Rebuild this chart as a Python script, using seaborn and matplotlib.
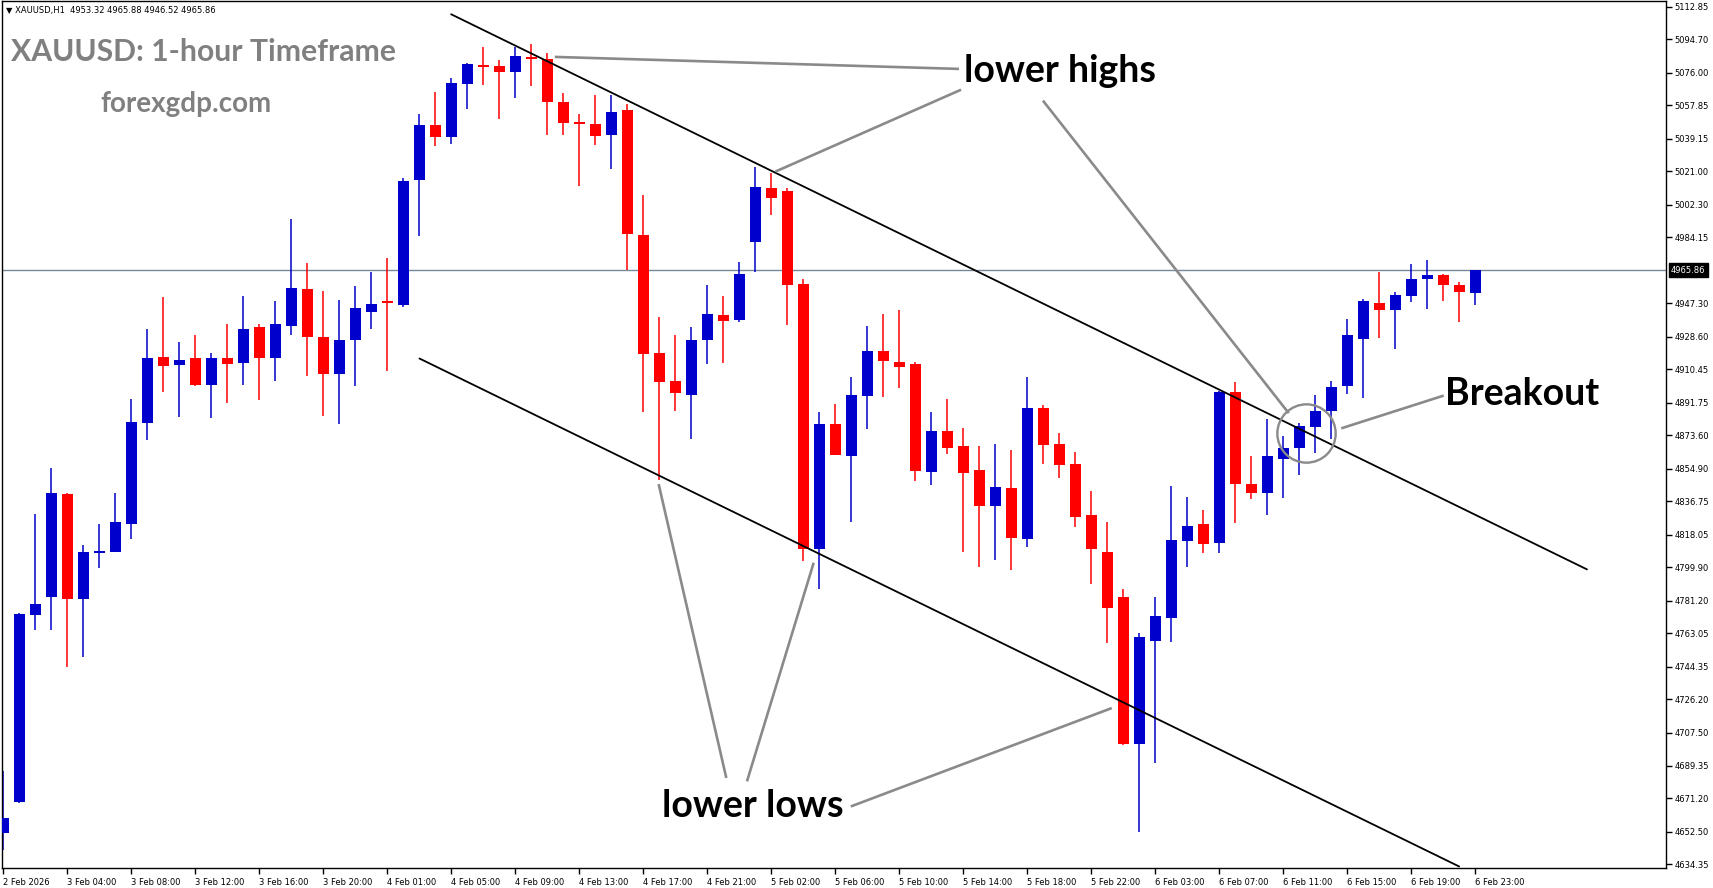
import matplotlib
matplotlib.use("Agg")
import matplotlib.pyplot as plt
import seaborn as sns
import pandas as pd
import numpy as np

# hourly candles, 2 Feb - 6 Feb 2026
opens = [4651.8, 4668.8, 4773.5, 4783.2, 4840.7, 4782.5, 4807.7, 4808.7, 4824.4, 4880.6,
         4917.5, 4912.6, 4916.5, 4901.9, 4916.9, 4913.9, 4934.3, 4916.5, 4934.9, 4955.1,
         4928.3, 4908.1, 4926.6, 4942.2, 4948.7, 4946.3, 5015.9, 5046.6, 5039.9, 5069.7,
         5080.5, 5079.6, 5076.4, 5084.5, 5083.5, 5059.9, 5048.1, 5047.6, 5041.0, 5054.9,
         4985.4, 4919.7, 4904.0, 4896.3, 4926.6, 4940.5, 4937.9, 4981.5, 5011.8, 5010.1,
         4958.3, 4810.3, 4880.2, 4861.9, 4895.7, 4920.4, 4914.5, 4913.5, 4853.1, 4876.3,
         4867.4, 4854.3, 4834.1, 4844.0, 4815.5, 4888.8, 4869.0, 4857.7, 4829.0, 4808.6,
         4783.3, 4701.1, 4759.1, 4771.6, 4814.9, 4824.0, 4813.5, 4898.0, 4846.3, 4841.6,
         4860.6, 4866.7, 4878.4, 4887.4, 4901.3, 4927.5, 4947.6, 4943.7, 4951.5, 4960.7,
         4963.3, 4957.5, 4953.32]
highs = [4686.2, 4774.5, 4829.5, 4855.3, 4841.4, 4812.6, 4824.4, 4841.4, 4893.9, 4933.2,
         4950.6, 4925.9, 4929.8, 4919.3, 4935.6, 4951.2, 4936.0, 4948.5, 4994.6, 4969.7,
         4954.0, 4948.9, 4956.8, 4964.8, 4972.7, 5017.0, 5053.2, 5065.4, 5073.2, 5081.3,
         5090.1, 5082.8, 5090.3, 5091.8, 5086.9, 5064.4, 5053.2, 5063.3, 5063.3, 5058.6,
         5007.7, 4939.9, 4929.8, 4934.3, 4957.3, 4951.1, 4970.1, 5023.4, 5020.2, 5011.6,
         4961.1, 4886.9, 4890.9, 4906.2, 4934.7, 4941.2, 4943.4, 4914.5, 4886.6, 4893.9,
         4877.5, 4867.4, 4869.0, 4865.6, 4906.2, 4890.5, 4874.7, 4864.4, 4842.3, 4825.0,
         4787.8, 4763.1, 4783.3, 4845.2, 4839.0, 4832.0, 4898.5, 4903.5, 4862.1, 4882.7,
         4873.2, 4880.7, 4896.1, 4903.9, 4938.5, 4949.5, 4964.7, 4953.6, 4969.2, 4971.4,
         4963.6, 4959.0, 4965.88]
lows = [4642.2, 4668.5, 4764.9, 4764.9, 4744.1, 4750.1, 4799.7, 4808.3, 4815.6, 4871.0,
        4898.0, 4883.8, 4901.4, 4883.4, 4891.8, 4901.9, 4893.5, 4904.0, 4929.6, 4906.8,
        4884.5, 4880.0, 4901.2, 4933.2, 4909.6, 4945.5, 4984.7, 5035.0, 5036.0, 5056.0,
        5069.1, 5050.4, 5061.8, 5068.5, 5041.4, 5041.4, 5012.9, 5035.8, 5022.3, 4965.6,
        4886.9, 4848.9, 4887.1, 4871.6, 4913.3, 4913.7, 4936.7, 4965.0, 4996.8, 4935.2,
        4803.2, 4787.7, 4862.4, 4825.0, 4876.9, 4895.1, 4900.0, 4848.2, 4845.8, 4863.4,
        4808.6, 4800.3, 4804.0, 4798.7, 4811.2, 4857.7, 4849.8, 4822.5, 4790.8, 4757.6,
        4700.6, 4652.3, 4690.9, 4758.5, 4800.1, 4808.0, 4808.0, 4824.9, 4838.3, 4829.1,
        4838.8, 4851.6, 4863.9, 4871.7, 4896.8, 4894.6, 4928.1, 4921.6, 4948.2, 4943.9,
        4948.7, 4936.7, 4946.52]
closes = [4659.8, 4774.0, 4779.5, 4841.4, 4782.5, 4808.7, 4808.7, 4825.0, 4881.1, 4916.9,
          4912.2, 4915.8, 4901.9, 4916.9, 4913.3, 4932.8, 4916.5, 4935.6, 4955.8, 4928.3,
          4908.1, 4927.0, 4944.4, 4946.7, 4947.4, 5015.7, 5046.6, 5039.9, 5070.0, 5080.7,
          5079.2, 5076.4, 5085.2, 5083.5, 5059.7, 5048.1, 5047.2, 5040.5, 5053.9, 4986.0,
          4919.1, 4903.6, 4897.0, 4927.0, 4941.6, 4937.3, 4963.9, 5012.2, 5006.2, 4957.5,
          4810.3, 4880.0, 4862.8, 4896.1, 4920.4, 4914.9, 4911.5, 4853.7, 4876.3, 4866.8,
          4852.5, 4834.1, 4844.8, 4816.1, 4888.8, 4868.0, 4857.1, 4828.0, 4810.0, 4777.3,
          4701.1, 4761.1, 4772.6, 4815.3, 4823.2, 4813.0, 4898.0, 4846.3, 4841.2, 4862.1,
          4866.5, 4878.8, 4887.0, 4900.6, 4929.6, 4948.6, 4943.7, 4951.9, 4960.8, 4963.3,
          4957.3, 4953.4, 4965.86]

time_labels = ["2 Feb 2026", "3 Feb 04:00", "3 Feb 08:00", "3 Feb 12:00", "3 Feb 16:00",
               "3 Feb 20:00", "4 Feb 01:00", "4 Feb 05:00", "4 Feb 09:00", "4 Feb 13:00",
               "4 Feb 17:00", "4 Feb 21:00", "5 Feb 02:00", "5 Feb 06:00", "5 Feb 10:00",
               "5 Feb 14:00", "5 Feb 18:00", "5 Feb 22:00", "6 Feb 03:00", "6 Feb 07:00",
               "6 Feb 11:00", "6 Feb 15:00", "6 Feb 19:00", "6 Feb 23:00"]
price_ticks = [5112.85, 5094.70, 5076.00, 5057.85, 5039.15, 5021.00, 5002.30, 4984.15,
               4947.30, 4928.60, 4910.45, 4891.75, 4873.60, 4854.90, 4836.75, 4818.05,
               4799.90, 4781.20, 4763.05, 4744.35, 4726.20, 4707.50, 4689.35, 4671.20,
               4652.50, 4634.35]
last_price = 4965.86

sns.set_theme(style="white")
plt.rcParams['font.family'] = ['DejaVu Sans']

W, H = 1713, 888
fig = plt.figure(figsize=(W / 100, H / 100), dpi=100)
ax = fig.add_axes([2 / W, 1 - 868 / H, (1666 - 2) / W, (868 - 1) / H])

df = pd.DataFrame({"open": opens, "high": highs, "low": lows, "close": closes})
df["bar"] = np.arange(len(df))
colors = np.where(df["close"] >= df["open"], "#0000CC", "#FF0000")

ax.vlines(df["bar"], df["low"], df["high"], colors=colors, lw=1.1, zorder=2)
body = (df["close"] - df["open"]).abs().clip(lower=1.2)
ax.bar(df["bar"], body, bottom=np.minimum(df["open"], df["close"]), width=0.68,
       color=colors, linewidth=0, zorder=3)

ax.axhline(last_price, color="#778899", lw=1, zorder=1)

# channel lines
upper = pd.DataFrame({"x": [27.99, 98.98], "y": [5108.6, 4798.8]})
lower = pd.DataFrame({"x": [26.01, 90.99], "y": [4916.5, 4633.0]})
sns.lineplot(data=upper, x="x", y="y", ax=ax, color="black", lw=1.3, zorder=5)
sns.lineplot(data=lower, x="x", y="y", ax=ax, color="black", lw=1.3, zorder=5)

# pointer lines
gray = "#8a8a8a"
pointers = [
    ((34.47, 5084.8), (59.73, 5078.1)),
    ((48.26, 5020.8), (59.86, 5066.5)),
    ((64.98, 5060.4), (80.34, 4886.0)),
    ((40.96, 4846.4), (45.19, 4682.4)),
    ((50.65, 4802.5), (46.48, 4680.5)),
    ((69.28, 4721.4), (52.97, 4666.5)),
    ((83.62, 4877.5), (90.03, 4895.8)),
]
for (x0, y0), (x1, y1) in pointers:
    ax.plot([x0, x1], [y0, y1], color=gray, lw=1.9, zorder=6, solid_capstyle="butt")
ax.plot([81.43], [4875.0], marker="o", markersize=42, markerfacecolor="none",
        markeredgecolor=gray, markeredgewidth=1.7, zorder=6)

lab_font = dict(family=["Lato", "DejaVu Sans"], fontweight="bold", fontsize=27, color="black")
ax.text(66.04, 5076.9, "lower highs", ha="center", va="center", zorder=7, **lab_font)
ax.text(46.83, 4666.5, "lower lows", ha="center", va="center", zorder=7, **lab_font)
ax.text(94.95, 4896.4, "Breakout", ha="center", va="center", zorder=7, **lab_font)

ax.set_xlim(-0.08, 103.92)
ax.set_ylim(4632.15, 5116.0)

ax.yaxis.tick_right()
ax.set_yticks(price_ticks)
ax.set_yticklabels([f"{v:.2f}" for v in price_ticks])
ax.set_xticks(range(0, len(df), 4))
ax.set_xticklabels(time_labels, ha="left")
ax.tick_params(axis="both", which="both", direction="out", length=4, width=1,
               color="black", labelsize=6, labelcolor="black", pad=2)
ax.tick_params(axis="x", bottom=True, pad=3)
ax.tick_params(axis="y", right=True, left=False)
for sp in ax.spines.values():
    sp.set_color("black")
    sp.set_linewidth(1)
ax.set_xlabel("")
ax.set_ylabel("")

ax.text(1.003, last_price, f"{last_price:.2f}", transform=ax.get_yaxis_transform(),
        ha="left", va="center", fontsize=6, color="white", zorder=8,
        bbox=dict(boxstyle="square,pad=0.25", fc="black", ec="black"))

fig.text(11 / W, 1 - 52 / H, "XAUUSD: 1-hour Timeframe", ha="left", va="center",
         family=["Lato", "DejaVu Sans"], fontweight="bold", fontsize=21.7, color="#808080")
fig.text(100 / W, 1 - 104 / H, "forexgdp.com", ha="left", va="center",
         family=["Lato", "DejaVu Sans"], fontweight="bold", fontsize=20, color="#808080")
fig.text(6 / W, 1 - 10 / H, "\u25bc XAUUSD,H1  4953.32 4965.88 4946.52 4965.86",
         ha="left", va="center", fontsize=6, color="black")

fig.savefig("out.png", dpi=100)
